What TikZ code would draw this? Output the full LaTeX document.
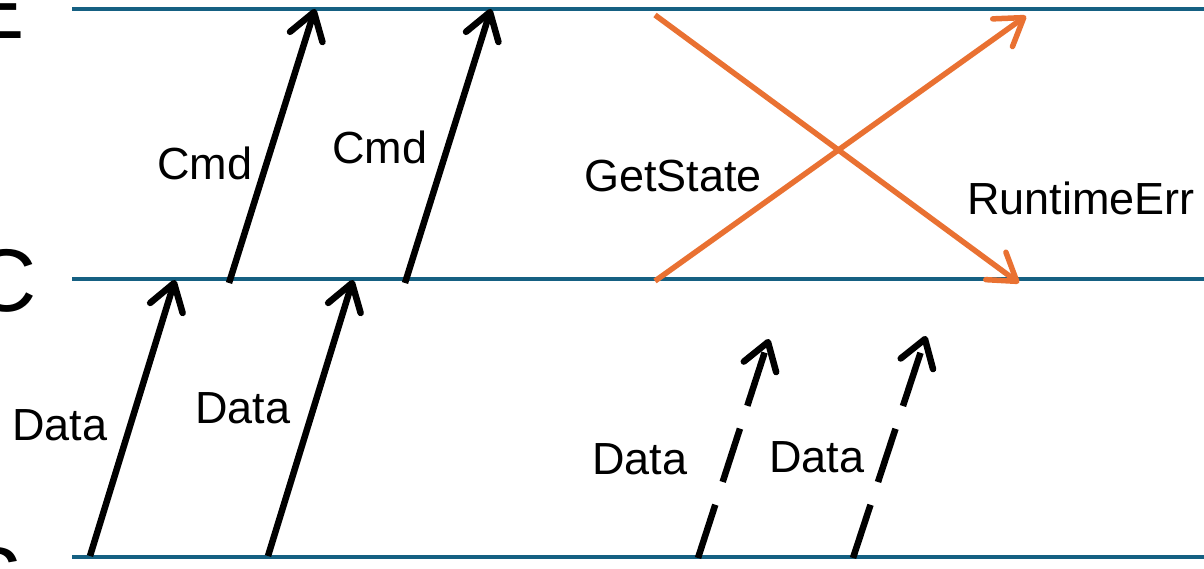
\documentclass[tikz,border=0pt]{standalone}
\usepackage{fontspec}
\setmainfont{Liberation Sans}
\usetikzlibrary{arrows.meta}
\definecolor{laneblue}{HTML}{156082}
\definecolor{msgorange}{HTML}{E97132}
\tikzset{
  lane/.style={draw=laneblue, line width=4pt},
  lanename/.style={font=\fontsize{89}{100}\selectfont, inner sep=0pt, anchor=base west},
  msglabel/.style={font=\fontsize{45}{54}\selectfont, inner sep=0pt, anchor=base},
  msg/.style={draw=black, line width=6.5pt, -{Straight Barb[length=26pt,width=34pt,round]}},
  errmsg/.style={msg, draw=msgorange, line width=5.5pt},
  lostmsg/.style={msg, dash pattern=on 56pt off 24pt}
}
\begin{document}
\begin{tikzpicture}[x=1pt,y=-1pt]
  \useasboundingbox (0,0) rectangle (1204,569);

  % lane names, partly outside the page on the left
  \node[lanename] (nameE) at (-35,39) {E};
  \node[lanename] (nameC) at (-28,311) {C};
  \node[lanename] (nameS) at (-37,609) {S};

  % lanes
  \coordinate (E0) at (72,9);    \coordinate (E1) at (1215,9);
  \coordinate (C0) at (72,279);  \coordinate (C1) at (1215,279);
  \coordinate (S0) at (72,557);  \coordinate (S1) at (1215,557);
  \draw[lane] (E0) -- (E1);
  \draw[lane] (C0) -- (C1);
  \draw[lane] (S0) -- (S1);

  % message end points
  \coordinate (d1s) at (90,556);   \coordinate (d1e) at (175,280);
  \coordinate (d2s) at (268,556);  \coordinate (d2e) at (353,280);
  \coordinate (c1s) at (229,283);  \coordinate (c1e) at (315,9);
  \coordinate (c2s) at (405,283);  \coordinate (c2e) at (491,9);
  \coordinate (gss) at (655,281);  \coordinate (gse) at (1026,16);
  \coordinate (res) at (655,15);   \coordinate (ree) at (1019,283);
  \coordinate (l1s) at (698,558);  \coordinate (l1e) at (769,339);
  \coordinate (l2s) at (853,558);  \coordinate (l2e) at (926,336);

  % S -> C data
  \draw[msg] (d1s) -- (d1e);
  \draw[msg] (d2s) -- (d2e);
  % C -> E commands
  \draw[msg] (c1s) -- (c1e);
  \draw[msg] (c2s) -- (c2e);
  % crossing exchange between C and E
  \draw[errmsg] (gss) -- (gse);
  \draw[errmsg] (res) -- (ree);
  % data that never reaches C
  \draw[lostmsg] (l1s) -- (l1e);
  \draw[lostmsg] (l2s) -- (l2e);

  % labels
  \node[msglabel] (ld1) at (60,440) {Data};
  \node[msglabel] (ld2) at (243,423) {Data};
  \node[msglabel] (lc1) at (205,180) {Cmd};
  \node[msglabel] (lc2) at (380,164) {Cmd};
  \node[msglabel] (lgs) at (673,192) {GetState};
  \node[msglabel, anchor=base west] (lre) at (967,215) {RuntimeErr};
  \node[msglabel] (ll1) at (640,474) {Data};
  \node[msglabel] (ll2) at (817,472) {Data};
\end{tikzpicture}
\end{document}
